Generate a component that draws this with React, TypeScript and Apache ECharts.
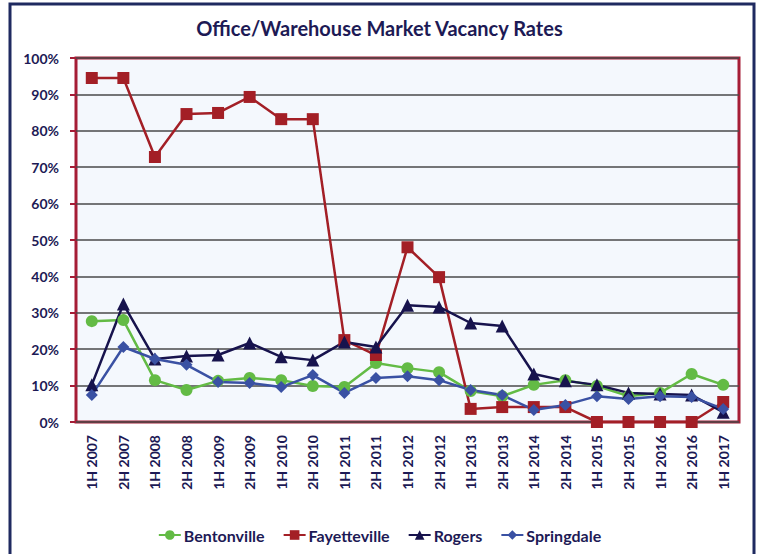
import React, { useEffect, useRef } from "react";
import * as echarts from "echarts";

const categories = [
  "1H 2007", "2H 2007", "1H 2008", "2H 2008", "1H 2009", "2H 2009", "1H 2010",
  "2H 2010", "1H 2011", "2H 2011", "1H 2012", "2H 2012", "1H 2013", "2H 2013",
  "1H 2014", "2H 2014", "1H 2015", "2H 2015", "1H 2016", "2H 2016", "1H 2017",
];

const bentonville = [27.7, 28, 11.5, 8.8, 11.3, 12.1, 11.5, 9.9, 9.6, 16.2, 14.8, 13.7, 8.5, 7.1, 10.2, 11.5, 9.9, 7.1, 8, 13.2, 10.2];
const fayetteville = [94.5, 94.5, 72.8, 84.6, 84.9, 89.3, 83.2, 83.2, 22.5, 18.4, 48, 39.8, 3.6, 4.1, 4.1, 4.1, 0, 0, 0, 0, 5.5];
const rogers = [10.2, 32.4, 17.3, 18.1, 18.4, 21.7, 17.9, 17, 22, 20.6, 32.1, 31.6, 27.2, 26.4, 13.2, 11.3, 10.2, 8, 7.7, 7.4, 2.7];
const springdale = [7.4, 20.6, 17.3, 15.7, 11, 10.7, 9.6, 12.9, 8, 12.1, 12.6, 11.5, 8.8, 7.4, 3.3, 4.7, 7.1, 6.3, 7.1, 6.9, 3.6];

const NAVY = "#1d1a55";
const FONT = "Lato";

export default function App() {
  const ref = useRef<HTMLDivElement>(null);
  useEffect(() => {
    const chart = echarts.init(ref.current!, null, { renderer: "svg" });
    const mk = (name: string, data: number[], color: string, symbol: string, size: number) => ({
      name,
      type: "line",
      data,
      symbol,
      symbolSize: size,
      lineStyle: { color, width: 2.5 },
      itemStyle: { color },
      z: 3,
    });
    chart.setOption({
      animation: false,
      backgroundColor: "#ffffff",
      title: {
        text: "Office/Warehouse Market Vacancy Rates",
        left: "center",
        top: 13,
        textStyle: { fontFamily: FONT, fontSize: 20, fontWeight: "bold", color: NAVY },
      },
      graphic: [
        {
          type: "rect",
          shape: { x: 10, y: 4, width: 744, height: 560 },
          style: { fill: "none", stroke: "#1f2a60", lineWidth: 3 },
          z: 100,
          silent: true,
        },
      ],
      legend: {
        bottom: 6,
        left: "center",
        itemGap: 18,
        itemWidth: 22,
        itemHeight: 12,
        textStyle: { fontFamily: FONT, fontSize: 16, fontWeight: "bold", color: NAVY, padding: [0, 0, 0, -2] },
        data: ["Bentonville", "Fayetteville", "Rogers", "Springdale"],
      },
      grid: {
        left: 76,
        right: 20,
        top: 58,
        bottom: 132,
        show: true,
        backgroundColor: "#f4f8fd",
        borderColor: "#a51d36",
        borderWidth: 3,
      },
      xAxis: {
        type: "category",
        data: categories,
        boundaryGap: true,
        axisLine: { show: false },
        axisTick: { show: false },
        axisLabel: {
          rotate: 90,
          interval: 0,
          margin: 13,
          fontFamily: FONT,
          fontSize: 14,
          fontWeight: "bold",
          color: NAVY,
        },
      },
      yAxis: {
        type: "value",
        min: 0,
        max: 100,
        interval: 10,
        axisLine: { show: false },
        axisTick: { show: true, length: 6, lineStyle: { color: "#a51d36", width: 2 } },
        axisLabel: {
          formatter: "{value}%",
          margin: 17,
          fontFamily: FONT,
          fontSize: 14,
          fontWeight: "bold",
          color: NAVY,
        },
        splitLine: { lineStyle: { color: "#4a4a4a", width: 1.5 } },
      },
      series: [
        mk("Bentonville", bentonville, "#63bb45", "circle", 12),
        mk("Fayetteville", fayetteville, "#a31f26", "rect", 12),
        mk("Rogers", rogers, "#17134d", "triangle", 13),
        mk("Springdale", springdale, "#3a51a3", "diamond", 12),
      ],
    });
    return () => chart.dispose();
  }, []);
  return (
    <div
      ref={ref}
      style={{ position: "fixed", left: 0, top: 0, width: 759, height: 554 }}
    />
  );
}
